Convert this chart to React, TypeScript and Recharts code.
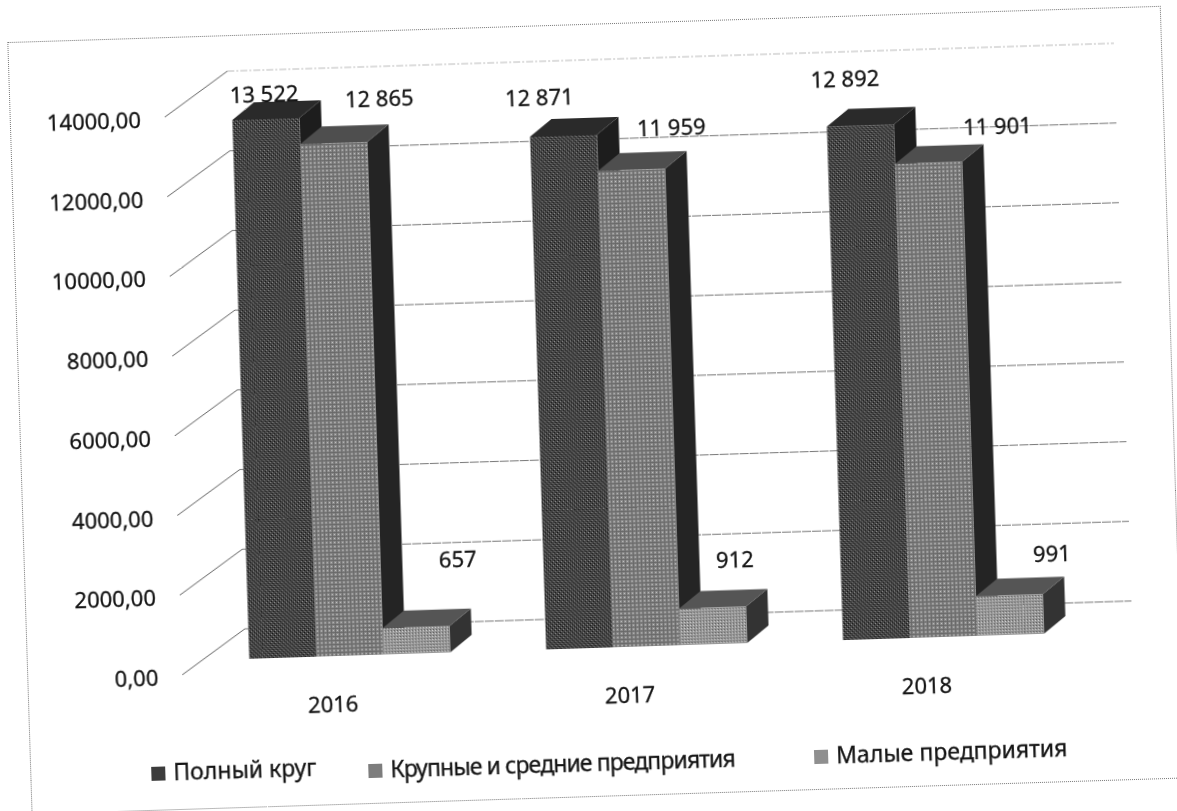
import React from "react";
import { BarChart, Bar, XAxis, YAxis, Legend, LabelList, CartesianGrid } from "recharts";

const years = ["2016", "2017", "2018"];
const fullCircle = [13522, 12871, 12892];
const largeMedium = [12865, 11959, 11901];
const small = [657, 912, 991];
const yTicks = [0, 2000, 4000, 6000, 8000, 10000, 12000, 14000];
const seriesNames = ["Полный круг", "Крупные и средние предприятия", "Малые предприятия"];

const chartData = years.map((year, i) => ({
  year,
  full: fullCircle[i],
  large: largeMedium[i],
  small: small[i],
}));

// the labels were dragged by hand in the original, so each one has its own nudge
const fullNudge = [[-1, -26], [-23, -40], [-14, -48]];
const largeNudge = [[47, -44], [41, -42], [70, -36]];
const smallNudge = [[44, -68], [24, -49], [44, -41]];

const FONT = '"Noto Sans", sans-serif';
const TEXT = "#141414";
const DEPTH_X = 22;
const DEPTH_Y = -17;

const formatGroup = (v: number) => String(v).replace(/\B(?=(\d{3})+$)/g, " ");

function make3dBar(front: string, top: string, side: string) {
  return function Bar3d(props: any) {
    const { x, y, width, height } = props;
    const r = x + width;
    const b = y + height;
    const topPath = `M${x},${y}L${x + DEPTH_X},${y + DEPTH_Y}L${r + DEPTH_X},${y + DEPTH_Y}L${r},${y}Z`;
    const sidePath = `M${r},${y}L${r + DEPTH_X},${y + DEPTH_Y}L${r + DEPTH_X},${b + DEPTH_Y}L${r},${b}Z`;
    return (
      <g>
        <path d={sidePath} fill={side} />
        <path d={topPath} fill={top} />
        <rect x={x} y={y} width={width} height={height} fill={front} />
      </g>
    );
  };
}

function nudgedLabel(nudges: number[][]) {
  return function NudgedLabel(props: any) {
    const { x, y, width, value, index } = props;
    const [dx, dy] = nudges[index];
    return (
      <text x={x + width / 2 + dx} y={y + dy} fill={TEXT} stroke={TEXT} strokeWidth={0.3} fontSize={22} fontFamily={FONT} textAnchor="middle" dominantBaseline="central">
        {formatGroup(value)}
      </text>
    );
  };
}

// floor-to-wall diagonal plus the back wall line, drawn under the bars
function WallLine(props: any) {
  const { y1, index } = props;
  const isTop = index === yTicks.length - 1 || y1 < 100;
  return (
    <g key={`wall-${y1}`}>
      <line x1={174} y1={y1 + 14} x2={238} y2={y1 - 30} stroke="#666" strokeWidth={1} />
      <line x1={238} y1={y1 - 30} x2={1125} y2={y1 - 30} stroke={isTop ? "#bbb" : "#777"} strokeWidth={1} strokeDasharray={isTop ? "7 2 2 2" : "9 1"} />
    </g>
  );
}

function ValueTick(props: any) {
  const { y, payload } = props;
  return (
    <text x={150} y={y + 15} fill={TEXT} stroke={TEXT} strokeWidth={0.3} fontSize={22} fontFamily={FONT} textAnchor="end" dominantBaseline="central">
      {payload.value.toFixed(2).replace(".", ",")}
    </text>
  );
}

function YearTick(props: any) {
  const { x, y, payload } = props;
  return (
    <text x={x - 18} y={y + 39} fill={TEXT} stroke={TEXT} strokeWidth={0.3} fontSize={22} fontFamily={FONT} textAnchor="middle" dominantBaseline="central">
      {payload.value}
    </text>
  );
}

const legendSpots = [
  { left: 140, top: 0, spacing: 0 },
  { left: 357, top: 4, spacing: -0.9 },
  { left: 803, top: 4, spacing: 0 },
];
const legendSwatches = ["#3c3c3c", "#7d7d7d", "#8f8f8f"];

function ScanLegend() {
  return (
    <div style={{ position: "relative", height: 0, width: 1 }}>
      {seriesNames.map((name, i) => (
        <div
          key={name}
          style={{
            position: "absolute",
            left: legendSpots[i].left,
            top: legendSpots[i].top,
            whiteSpace: "nowrap",
            color: TEXT,
            fontFamily: FONT,
            fontSize: 23,
            lineHeight: "30px",
            letterSpacing: legendSpots[i].spacing,
            WebkitTextStroke: "0.3px #141414",
          }}
        >
          <span style={{ display: "inline-block", width: 14, height: 14, background: legendSwatches[i], marginRight: 8 }} />
          {name}
        </div>
      ))}
    </div>
  );
}

export default function App() {
  return (
    <div
      style={{
        position: "fixed",
        left: 0,
        top: 0,
        width: 1177,
        height: 811,
        background: "#fff",
        transform: "rotate(-1.8deg)",
        transformOrigin: "588px 405px",
      }}
    >
      <div style={{ position: "absolute", left: 19, top: 24, width: 1152, height: 771, border: "1px dotted #777" }} />
      <BarChart
        width={1177}
        height={811}
        data={chartData}
        barSize={67}
        barGap={0}
        barCategoryGap={48}
        margin={{ top: 90, right: 92.5, bottom: 113, left: 133.5 }}
        style={{ position: "absolute", left: 0, top: 0 }}
      >
        <defs>
          <pattern id="fullFront" width="4" height="4" patternUnits="userSpaceOnUse">
            <rect width="4" height="4" fill="#444" />
            <rect x="0" y="0" width="1" height="1" fill="#8c8c8c" />
            <rect x="2" y="2" width="1" height="1" fill="#777" />
            <rect x="1" y="3" width="1" height="1" fill="#161616" />
            <rect x="3" y="1" width="1" height="1" fill="#161616" />
          </pattern>
          <pattern id="largeFront" width="4" height="4" patternUnits="userSpaceOnUse">
            <rect width="4" height="4" fill="#8a8a8a" />
            <rect x="0" y="0" width="4" height="1" fill="#6a6a6a" />
            <rect x="0" y="0" width="1" height="4" fill="#6a6a6a" />
            <rect x="2" y="2" width="1" height="1" fill="#c4c4c4" />
          </pattern>
          <pattern id="smallFront" width="3" height="3" patternUnits="userSpaceOnUse">
            <rect width="3" height="3" fill="#969696" />
            <rect x="0" y="0" width="1" height="1" fill="#5e5e5e" />
            <rect x="2" y="1" width="1" height="1" fill="#d0d0d0" />
          </pattern>
        </defs>
        <CartesianGrid vertical={false} horizontal={(p: any) => <WallLine {...p} />} />
        <YAxis
          width={60}
          domain={[0, 14000]}
          ticks={yTicks}
          interval={0}
          axisLine={false}
          tickLine={false}
          tick={<ValueTick />}
        />
        <XAxis dataKey="year" height={50} axisLine={false} tickLine={false} tick={<YearTick />} />
        <Legend height={0} content={<ScanLegend />} wrapperStyle={{ left: 0, top: 743, width: 1 }} />
        <Bar dataKey="full" name={seriesNames[0]} isAnimationActive={false} shape={make3dBar("url(#fullFront)", "#2a2a2a", "#1d1d1d")}>
          <LabelList dataKey="full" content={nudgedLabel(fullNudge)} />
        </Bar>
        <Bar dataKey="large" name={seriesNames[1]} isAnimationActive={false} shape={make3dBar("url(#largeFront)", "#4e4e4e", "#242424")}>
          <LabelList dataKey="large" content={nudgedLabel(largeNudge)} />
        </Bar>
        <Bar dataKey="small" name={seriesNames[2]} isAnimationActive={false} shape={make3dBar("url(#smallFront)", "#555", "#333")}>
          <LabelList dataKey="small" content={nudgedLabel(smallNudge)} />
        </Bar>
      </BarChart>
    </div>
  );
}
